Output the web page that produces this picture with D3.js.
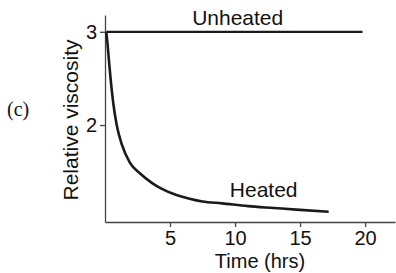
<!DOCTYPE html>
<html>
<head>
<meta charset="utf-8">
<script src="https://cdn.jsdelivr.net/npm/d3@7"></script>
<style>
  body { margin: 0; background: #fff; }
  svg { display: block; }
  text { font-family: "Liberation Sans", Arial, sans-serif; fill: #111; }
  .axis path, .axis line { stroke: #444; stroke-width: 1.3; }
  .axis text { font-size: 20px; }
</style>
</head>
<body>
<svg id="chart" width="396" height="273"></svg>
<script>
// time (hrs) and relative viscosity
let heatedTime = [0.1, 0.2, 0.4, 0.65, 0.9, 1.3, 1.9, 2.7, 3.6, 4.3, 5.5, 6.5, 7.5, 9, 11, 13, 15, 17.2];
let heatedVisc = [3.0, 2.86, 2.54, 2.22, 2.0, 1.79, 1.6, 1.48, 1.38, 1.32, 1.25, 1.21, 1.18, 1.16, 1.13, 1.11, 1.09, 1.07];
let unheatedTime = [0.1, 19.8];
let unheatedVisc = [3.0, 3.0];
let xTicks = [5, 10, 15, 20];
let yTicks = [2, 3];

let svg = d3.select("#chart");

let x = d3.scaleLinear().domain([0, 22.3]).range([105, 395]);
let y = d3.scaleLinear().domain([0.96, 3.18]).range([222, 15]);

// axes
svg.append("g")
    .attr("class", "axis")
    .attr("transform", "translate(0,222)")
    .call(d3.axisBottom(x).tickValues(xTicks).tickFormat(d3.format("d"))
        .tickSize(5).tickPadding(4).tickSizeOuter(0));

svg.append("g")
    .attr("class", "axis")
    .attr("transform", "translate(105,0)")
    .call(d3.axisLeft(y).tickValues(yTicks).tickFormat(d3.format("d"))
        .tickSize(5).tickPadding(3).tickSizeOuter(0));

// curves
let line = d3.line()
    .x(d => x(d[0]))
    .y(d => y(d[1]))
    .curve(d3.curveMonotoneX);

svg.append("path")
    .datum(unheatedTime.map((t, i) => [t, unheatedVisc[i]]))
    .attr("fill", "none")
    .attr("stroke", "#1a1a1a")
    .attr("stroke-width", 2.2)
    .attr("d", line);

svg.append("path")
    .datum(heatedTime.map((t, i) => [t, heatedVisc[i]]))
    .attr("fill", "none")
    .attr("stroke", "#1a1a1a")
    .attr("stroke-width", 2.6)
    .attr("d", line);

// labels
svg.append("text")
    .attr("x", x(6.7))
    .attr("y", 25)
    .style("font-size", "21px")
    .text("Unheated");

svg.append("text")
    .attr("x", x(12.2))
    .attr("y", 197)
    .attr("text-anchor", "middle")
    .style("font-size", "21px")
    .text("Heated");

svg.append("text")
    .attr("x", 260)
    .attr("y", 268)
    .attr("text-anchor", "middle")
    .style("font-size", "20px")
    .text("Time (hrs)");

svg.append("text")
    .attr("transform", "translate(78,120) rotate(-90)")
    .attr("text-anchor", "middle")
    .style("font-size", "21px")
    .text("Relative viscosity");

svg.append("text")
    .attr("x", 7)
    .attr("y", 116)
    .style("font-family", "'Liberation Serif', serif")
    .style("font-size", "20px")
    .text("(c)");
</script>
</body>
</html>
